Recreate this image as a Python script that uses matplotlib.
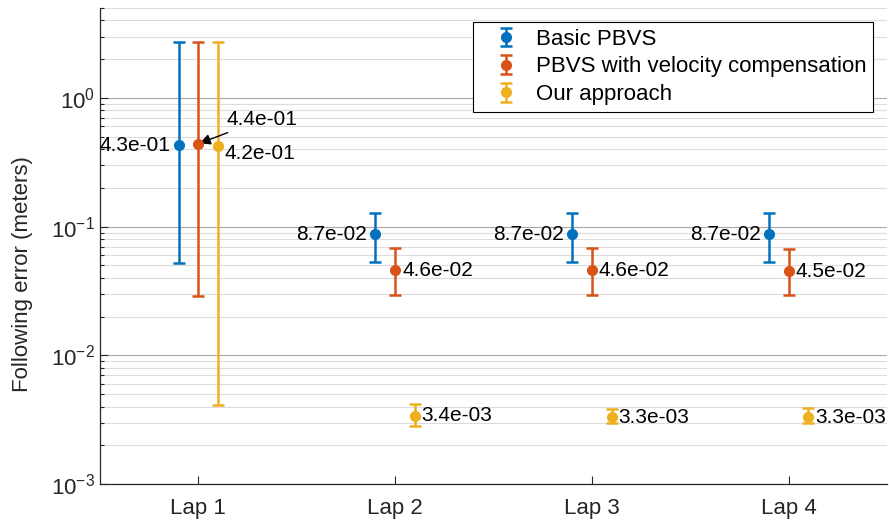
import matplotlib
matplotlib.use('Agg')
import matplotlib.pyplot as plt
import matplotlib.ticker as ticker
from matplotlib.legend_handler import HandlerErrorbar
import numpy as np

plt.rcParams['font.family'] = ['Liberation Sans', 'DejaVu Sans']
plt.rcParams['mathtext.fontset'] = 'custom'
plt.rcParams['mathtext.rm'] = 'Liberation Sans'
plt.rcParams['mathtext.it'] = 'Liberation Sans:italic'
plt.rcParams['mathtext.bf'] = 'Liberation Sans:bold'

# ---------------------------------------------------------------------------
# Data: mean following error with min / max range per lap
# ---------------------------------------------------------------------------
laps = ['Lap 1', 'Lap 2', 'Lap 3', 'Lap 4']
methods = ['Basic PBVS', 'PBVS with velocity compensation', 'Our approach']

basic_mean = [0.43, 0.087, 0.087, 0.087]
basic_low = [0.052, 0.053, 0.053, 0.053]
basic_high = [2.72, 0.128, 0.128, 0.128]

velcomp_mean = [0.44, 0.046, 0.046, 0.045]
velcomp_low = [0.029, 0.0294, 0.0294, 0.0294]
velcomp_high = [2.72, 0.0684, 0.0684, 0.0670]

ours_mean = [0.42, 0.0034, 0.0033, 0.0033]
ours_low = [0.0041, 0.0028, 0.0030, 0.0030]
ours_high = [2.72, 0.0042, 0.0038, 0.0039]

COLORS = ['#0072BD', '#D95319', '#EDB120']
TEXT_COLOR = '#262626'

fig = plt.figure(figsize=(8.89, 5.25), dpi=100)
ax = fig.add_axes([100 / 889, 41 / 525, 787 / 889, 476 / 525])

x = np.arange(1, len(laps) + 1)
offsets = [-0.1, 0.0, 0.1]
series = [
    (basic_mean, basic_low, basic_high),
    (velcomp_mean, velcomp_low, velcomp_high),
    (ours_mean, ours_low, ours_high),
]

for i, (mean, low, high) in enumerate(series):
    mean = np.array(mean)
    yerr = [mean - np.array(low), np.array(high) - mean]
    ax.errorbar(x + offsets[i], mean, yerr=yerr, fmt='o', color=COLORS[i],
                markersize=7, elinewidth=1.8, capsize=4, capthick=1.8,
                label=methods[i], zorder=3)

# Value labels: basic on the left, the others on the right
for i, (mean, _, _) in enumerate(series):
    for j, v in enumerate(mean):
        xp = x[j] + offsets[i]
        txt = f'{v:.1e}'
        if j == 0 and i == 1:
            ax.annotate(txt, xy=(xp, v), xytext=(xp + 0.145, v * 1.55),
                        fontsize=15, color='black', ha='left', va='center',
                        arrowprops=dict(arrowstyle='-|>', color='black',
                                        lw=1.0, mutation_scale=16,
                                        shrinkA=2, shrinkB=1))
        elif i == 0:
            ax.annotate(txt, xy=(xp, v), xytext=(-6, 0), textcoords='offset points',
                        fontsize=15, ha='right', va='center', color='black')
        else:
            dy = -5 if (j == 0 and i == 2) else 0
            ax.annotate(txt, xy=(xp, v), xytext=(5, dy), textcoords='offset points',
                        fontsize=15, ha='left', va='center', color='black')

ax.set_yscale('log')
ax.set_ylim(1e-3, 5)
ax.set_xlim(0.5, 4.5)
ax.set_xticks(x)
ax.set_xticklabels(laps)
ax.yaxis.set_major_locator(ticker.LogLocator(base=10, numticks=10))
ax.yaxis.set_minor_locator(ticker.LogLocator(base=10, subs=np.arange(2, 10), numticks=20))
ax.yaxis.set_minor_formatter(ticker.NullFormatter())
ax.yaxis.set_major_formatter(ticker.FuncFormatter(
    lambda v, _: f'$\\mathregular{{10^{{{int(round(np.log10(v)))}}}}}$'))

ax.grid(which='major', axis='y', color='#a8a8a8', linewidth=0.8)
ax.grid(which='minor', axis='y', color='#dcdcdc', linewidth=0.8)
ax.set_axisbelow(True)

ax.spines['top'].set_visible(False)
ax.spines['right'].set_visible(False)
for s in ('left', 'bottom'):
    ax.spines[s].set_color(TEXT_COLOR)
    ax.spines[s].set_linewidth(0.9)
ax.tick_params(axis='both', which='both', direction='in', colors=TEXT_COLOR,
               labelsize=16, width=0.8)
ax.tick_params(axis='y', which='major', length=6)
ax.tick_params(axis='y', which='minor', length=3)
ax.tick_params(axis='x', which='major', length=6, pad=10)
ax.set_ylabel('Following error (meters)', fontsize=16, color=TEXT_COLOR)
ax.yaxis.set_label_coords(-67 / 787, 0.44)

leg = ax.legend(loc='upper right', bbox_to_anchor=(873 / 889, 1 - 22 / 525),
                bbox_transform=fig.transFigure, borderaxespad=0, fontsize=16,
                fancybox=False, framealpha=1, edgecolor='black',
                handlelength=2.37, handletextpad=0.17, labelspacing=0.3,
                borderpad=0.3,
                handler_map={type(ax.containers[0]): HandlerErrorbar(xerr_size=0.3, yerr_size=0.42)})
leg.get_frame().set_linewidth(0.8)

fig.savefig('out.png', dpi=100, facecolor='white')
